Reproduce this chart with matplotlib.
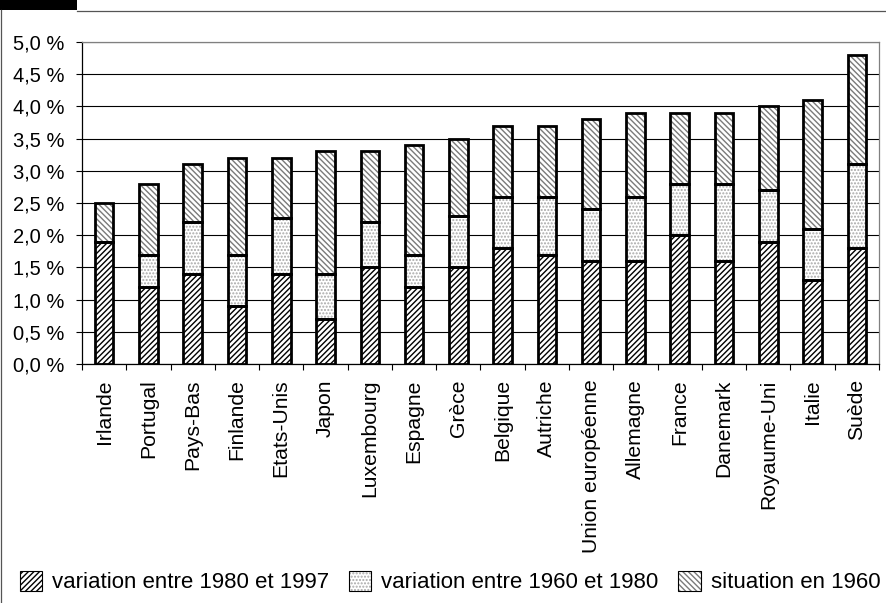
import matplotlib
matplotlib.use("Agg")
import matplotlib.pyplot as plt
from matplotlib.patches import Patch, Rectangle
from matplotlib.lines import Line2D
from matplotlib.legend_handler import HandlerTuple
from matplotlib.ticker import FuncFormatter, MultipleLocator, FixedLocator
import numpy as np

plt.rcParams['font.family'] = ['Liberation Sans', 'DejaVu Sans']
plt.rcParams['hatch.linewidth'] = 1.0

countries = ["Irlande", "Portugal", "Pays-Bas", "Finlande", "Etats-Unis", "Japon",
             "Luxembourg", "Espagne", "Grèce", "Belgique", "Autriche",
             "Union européenne", "Allemagne", "France", "Danemark",
             "Royaume-Uni", "Italie", "Suède"]
var_1980_1997 = [1.9, 1.2, 1.4, 0.9, 1.4, 0.7, 1.5, 1.2, 1.5, 1.8, 1.7, 1.6, 1.6, 2.0, 1.6, 1.9, 1.3, 1.8]
var_1960_1980 = [0.0, 0.5, 0.8, 0.8, 0.87, 0.7, 0.7, 0.5, 0.8, 0.8, 0.9, 0.8, 1.0, 0.8, 1.2, 0.8, 0.8, 1.3]
situation_1960 = [0.6, 1.1, 0.9, 1.5, 0.93, 1.9, 1.1, 1.7, 1.2, 1.1, 1.1, 1.4, 1.3, 1.1, 1.1, 1.3, 2.0, 1.7]
series_labels = ["variation entre 1980 et 1997", "variation entre 1960 et 1980", "situation en 1960"]

W, H = 887, 603
fig = plt.figure(figsize=(W / 100, H / 100), dpi=100)
ax = fig.add_axes([82 / W, 1 - 364 / H, (879 - 82) / W, (364 - 42) / H])

x = np.arange(len(countries))
bw = 0.42
series = [var_1980_1997, var_1960_1980, situation_1960]
hatches = ['//////', '.....', '\\\\\\\\\\\\']
hcolors = ['black', '#a8a8a8', '#7a7a7a']
bottom = np.zeros(len(countries))
handles = []
for vals, h, hc, lab in zip(series, hatches, hcolors, series_labels):
    vals = np.array(vals)
    ax.bar(x, vals, bw, bottom=bottom, color='white', edgecolor=hc, hatch=h,
           linewidth=0, zorder=3)
    ax.bar(x, vals, bw, bottom=bottom, fill=False, edgecolor='black',
           linewidth=2.0, zorder=4)
    bottom = bottom + vals
    handles.append((Patch(facecolor='white', edgecolor=hc, hatch=h, linewidth=0),
                    Patch(fill=False, edgecolor='black', linewidth=0.8)))

ax.set_xlim(-0.5, len(countries) - 0.5)
ax.set_ylim(0, 5.0)
ax.yaxis.set_major_locator(MultipleLocator(0.5))
ax.yaxis.set_major_formatter(FuncFormatter(lambda v, p: f"{v:.1f} %".replace('.', ',')))
ax.grid(axis='y', color='black', linewidth=0.8, zorder=0)
ax.set_axisbelow(True)

ax.set_xticks(x)
ax.set_xticklabels(countries, rotation=90, fontsize=15.2)
ax.xaxis.set_minor_locator(FixedLocator(np.arange(-0.5, len(countries), 1.0)))
ax.tick_params(axis='x', which='major', length=0, pad=11)
ax.tick_params(axis='x', which='minor', length=4.5, width=0.8, direction='out', color='black')
ax.tick_params(axis='y', which='major', length=4.5, width=0.8, direction='out', labelsize=14.5, pad=8)

for s in ['left', 'bottom']:
    ax.spines[s].set_color('black')
    ax.spines[s].set_linewidth(0.9)
for s in ['top', 'right']:
    ax.spines[s].set_color('#808080')
    ax.spines[s].set_linewidth(0.9)

leg = fig.legend(handles, series_labels, ncol=3, loc='center',
                 bbox_to_anchor=(450 / W, 1 - 582 / H), frameon=False, fontsize=16,
                 handler_map={tuple: HandlerTuple(ndivide=1, pad=0)},
                 handlelength=1.0, handleheight=1.0, handletextpad=0.45,
                 columnspacing=0.9, borderaxespad=0)

# figure frame decorations
fig.add_artist(Rectangle((0, 1 - 10 / H), 77 / W, 10 / H, transform=fig.transFigure,
                         facecolor='black', edgecolor='none'))
fig.add_artist(Line2D([77 / W, 1], [1 - 10.5 / H, 1 - 10.5 / H], transform=fig.transFigure,
                      color='#555555', linewidth=0.9))
fig.add_artist(Line2D([1.5 / W, 1.5 / W], [0, 1 - 10 / H], transform=fig.transFigure,
                      color='#555555', linewidth=0.9))

fig.savefig('out.png', dpi=100)
